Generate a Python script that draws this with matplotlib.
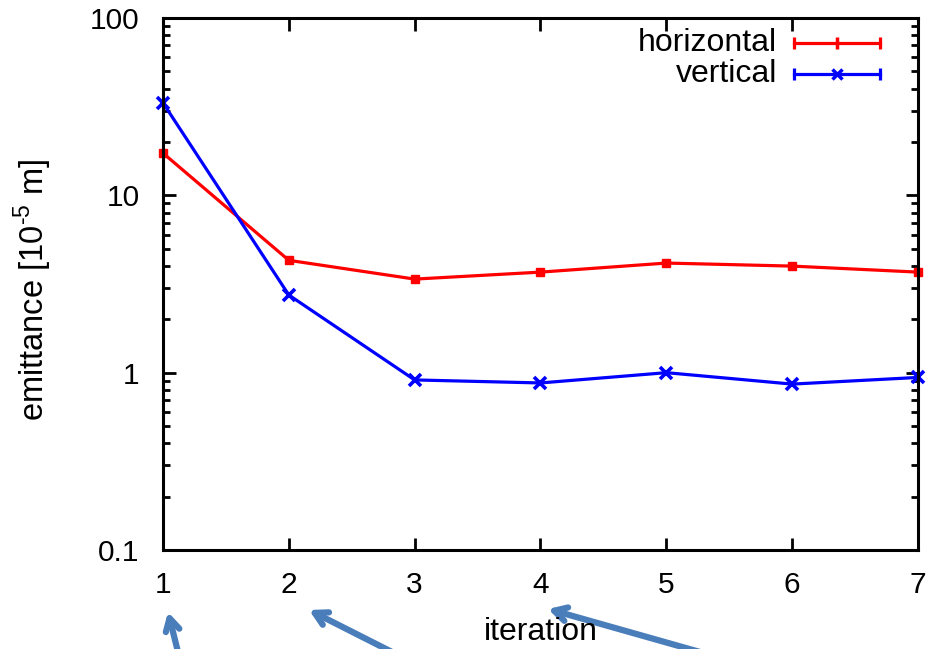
import numpy as np
import matplotlib
matplotlib.use("Agg")
import matplotlib.pyplot as plt
from matplotlib.lines import Line2D
from matplotlib.ticker import LogLocator, NullFormatter, FixedLocator

plt.rcParams['font.family'] = ['Liberation Sans', 'DejaVu Sans']
plt.rcParams['mathtext.fontset'] = 'custom'
plt.rcParams['mathtext.rm'] = 'Liberation Sans'

iteration = [1, 2, 3, 4, 5, 6, 7]
horizontal = [17.3, 4.3, 3.37, 3.69, 4.15, 3.99, 3.69]
vertical = [33.2, 2.74, 0.91, 0.875, 1.0, 0.862, 0.94]
ytick_vals = [0.1, 1, 10, 100]
ytick_labels = ["0.1", "1", "10", "100"]

W, H = 928, 649
fig = plt.figure(figsize=(W / 100, H / 100), dpi=100)
ax = fig.add_axes([163 / W, (H - 550) / H, (918 - 163) / W, (550 - 18) / H])

ax.plot(iteration, horizontal, color='#ff0000', lw=2.3, marker='s', ms=6, clip_on=False)
ax.plot(iteration, vertical, color='#0000ff', lw=2.3, marker='x', ms=8, mew=2.6, clip_on=False)

ax.set_yscale('log')
ax.set_ylim(0.1, 100)
ax.set_xlim(1, 7)
ax.set_yticks(ytick_vals)
ax.set_yticklabels(ytick_labels)
ax.yaxis.set_minor_locator(LogLocator(base=10, subs=np.arange(2, 10)))
ax.yaxis.set_minor_formatter(NullFormatter())
ax.xaxis.set_major_locator(FixedLocator(iteration))

for s in ax.spines.values():
    s.set_linewidth(2.2)
ax.tick_params(which='major', direction='in', length=9, width=2, labelsize=21.5,
               top=True, right=True)
ax.tick_params(which='minor', direction='in', length=5, width=2, right=True)
ax.tick_params(axis='x', pad=15)
ax.tick_params(axis='y', pad=17)

fig.text(33 / W, 1 - 290 / H, r'emittance [10$^{\text{-5}}$ m]', rotation=90,
         ha='center', va='center', fontsize=23.5)
fig.text(541 / W, 1 - 632 / H, 'iteration', ha='center', va='center', fontsize=23)

# key, drawn in the style of errorbar samples
for label, color, mk, y in [('horizontal', '#ff0000', '|', 43), ('vertical', '#0000ff', 'x', 74)]:
    fy = 1 - y / H
    fig.text(777 / W, fy, label, ha='right', va='center', fontsize=23)
    fig.add_artist(Line2D([794 / W, 880 / W], [fy, fy], color=color, lw=2.3))
    fig.add_artist(Line2D([794 / W, 880 / W], [fy, fy], color=color, lw=0,
                          marker='|', ms=9, mew=2.3))
    fig.add_artist(Line2D([837 / W], [fy], color=color, lw=0, marker=mk,
                          ms=8 if mk == '|' else 7, mew=2.5))

# arrows pointing at the iteration ticks
arrow_color = '#4a7ebb'
for tail, tip in [((178, 652), (168, 612)), ((392, 652), (309, 610)), ((700, 652), (548, 609))]:
    fig.add_artist(plt.Annotation('', xy=(tip[0], H - tip[1]), xytext=(tail[0], H - tail[1]),
                                  xycoords='figure pixels', textcoords='figure pixels',
                                  arrowprops=dict(arrowstyle='->,head_length=0.9,head_width=0.5',
                                                  color=arrow_color, lw=4.5,
                                                  shrinkA=0, shrinkB=0)))

fig.savefig('out.png', dpi=100)
